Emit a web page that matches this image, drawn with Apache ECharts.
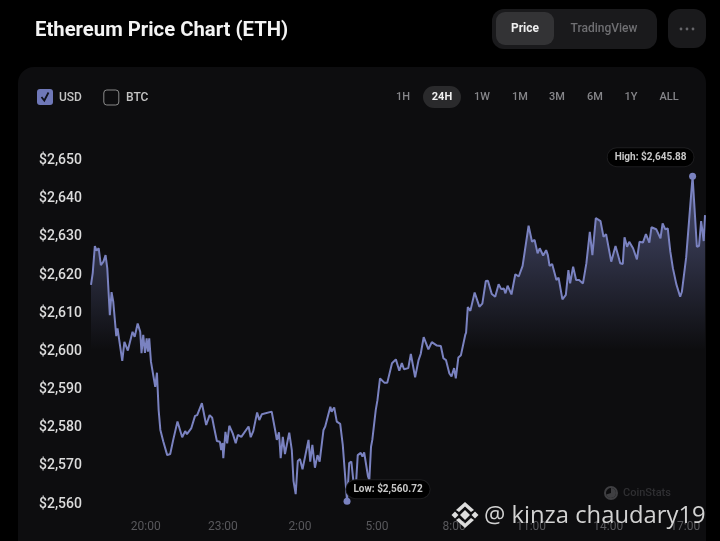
<!DOCTYPE html>
<html><head><meta charset="utf-8">
<style>html,body{margin:0;padding:0;background:#000}#c{width:720px;height:541px}</style>
<script src="https://cdn.jsdelivr.net/npm/echarts@6/dist/echarts.min.js"></script>
</head><body><div id="c"></div>
<script>
// minutes after 17:52
const minutes = [0,4,9,13,18,23,29,34,38,44,48,52,59,62,65,73,78,86,90,97,102,109,115,118,122,126,130,133,136,140,144,150,154,158,162,169,178,185,192,202,206,213,220,224,234,243,248,259,269,277,283,287,294,301,304,307,309,314,318,323,331,338,343,351,368,373,379,383,388,393,399,422,430,434,439,443,448,453,463,469,473,478,483,488,494,508,512,517,523,529,534,543,547,559,562,568,574,582,588,592,598,603,608,615,619,623,630,634,638,647,650,654,657,665,669,675,685,692,703,712,720,726,731,741,747,757,765,770,777,788,796,808,817,823,829,837,842,848,852,858,864,874,876,880,886,896,907,914,922,927,936,944,952,958,964,968,973,982,991,999,1008,1012,1022,1030,1036,1043,1048,1056,1063,1067,1071,1077,1087,1092,1101,1109,1115,1119,1126,1133,1140,1149,1157,1165,1171,1179,1190,1197,1203,1215,1225,1231,1236,1242,1246,1252,1257,1266,1270,1275,1281,1289,1296,1304,1309,1320,1330,1335,1341,1347,1353,1359,1367,1371,1376,1380,1390,1394,1405,1415,1420,1425,1431,1434];
const prices = [2617.4,2620.5,2627.6,2626.4,2627.0,2622.6,2623.5,2625.2,2621.8,2609.5,2615.5,2613.0,2604.0,2606.0,2606.5,2597.5,2602.5,2600.2,2599.7,2605.1,2603.8,2607.3,2605.1,2599.5,2604.3,2599.6,2603.4,2599.9,2603.4,2597.3,2597.1,2590.7,2594.4,2584.6,2579.4,2576.3,2572.8,2573.1,2576.8,2581.6,2581.1,2577.5,2579.1,2578.3,2579.8,2583.1,2583.3,2586.4,2580.7,2583.3,2582.6,2580.3,2576.5,2576.3,2574.1,2576.0,2572.0,2578.9,2575.9,2580.5,2578.5,2575.9,2578.1,2577.6,2580.3,2577.5,2579.1,2578.8,2584.0,2582.0,2583.5,2584.2,2579.4,2576.8,2578.8,2572.0,2577.6,2573.1,2578.7,2574.1,2566.0,2562.6,2571.3,2571.8,2569.1,2576.8,2571.1,2575.5,2569.5,2572.8,2571.1,2579.4,2580.3,2585.5,2584.2,2585.3,2581.6,2581.0,2575.5,2575.7,2560.72,2570.7,2571.1,2563.7,2565.4,2572.8,2573.4,2572.4,2573.5,2567.2,2566.3,2575.0,2576.8,2584.6,2587.2,2592.9,2591.8,2591.8,2596.9,2597.9,2594.9,2596.9,2595.3,2595.6,2599.3,2593.2,2597.7,2599.3,2603.7,2600.5,2602.4,2601.5,2601.4,2598.2,2597.7,2594.2,2593.4,2595.6,2592.9,2598.4,2599.0,2604.3,2604.9,2611.6,2610.6,2615.4,2611.7,2612.5,2618.4,2618.5,2615.0,2614.3,2617.6,2616.3,2616.5,2615.2,2617.2,2614.9,2620.2,2619.6,2622.4,2622.6,2632.9,2628.7,2629.2,2625.7,2627.0,2625.1,2626.5,2625.2,2622.4,2622.9,2618.7,2619.3,2613.6,2614.8,2621.3,2617.8,2622.2,2618.7,2618.7,2617.8,2623.1,2631.3,2625.2,2634.9,2634.1,2630.0,2630.7,2623.5,2627.6,2625.2,2623.1,2622.9,2629.9,2627.4,2628.7,2627.0,2627.4,2624.1,2628.7,2628.5,2630.7,2628.5,2632.5,2632.0,2629.6,2633.5,2632.0,2632.2,2626.1,2621.8,2617.6,2617.4,2614.3,2615.6,2624.6,2624.8,2645.88,2627.4,2627.6,2634.1,2628.9,2635.7];
const tickMinutes = [128,308,488,668,848,1028,1208,1388];
const tickLabels = ['20:00','23:00','2:00','5:00','8:00','11:00','14:00','17:00'];
const rangeLabels = ['1H','24H','1W','1M','3M','6M','1Y','ALL'];
const rangeCenters = [403,442,482,520,557,595,631,669];

const F = 'Roboto, sans-serif';
const money = v => '$' + v.toLocaleString('en-US', {minimumFractionDigits:2, maximumFractionDigits:2});
const txt = (x,y,text,size,fill,weight,align) => ({type:'text',x,y,z:5,style:{text,font:(weight||400)+' '+size+'px '+F,fill,textAlign:align||'left',textVerticalAlign:'middle'}});
const rr = (x,y,w,h,r,fill,z,stroke) => ({type:'rect',z:z||1,shape:{x,y,width:w,height:h,r},style:{fill,stroke:stroke||null}});
const poly = (pts,fill) => ({type:'polygon',z:50,shape:{points:pts},style:{fill}});

const graphics = [
  rr(18,67,688,500,16,'#0d0d0f',-5),
  txt(35,30.5,'Ethereum Price Chart (ETH)',20.3,'#f4f4f4',700),
  rr(492,9,165,40,12,'#1a1a1c',1),
  rr(496,12,58,33,9,'#333335',2),
  txt(525,29,'Price',12,'#eeeeee',700,'center'),
  txt(604,29,'TradingView',12,'#6f6f72',500,'center'),
  rr(668,9,38,39,12,'#1a1a1c',1),
  {type:'circle',z:3,shape:{cx:681,cy:29,r:1.4},style:{fill:'#66666a'}},
  {type:'circle',z:3,shape:{cx:687,cy:29,r:1.4},style:{fill:'#66666a'}},
  {type:'circle',z:3,shape:{cx:693,cy:29,r:1.4},style:{fill:'#66666a'}},
  rr(37,89,16,16,3,'#6f78b8',2),
  {type:'polyline',z:3,shape:{points:[[41.5,97],[44.3,100.5],[48.5,92.5]]},style:{stroke:'#10121c',lineWidth:1.8,fill:null}},
  txt(59,98,'USD',12,'#c4c4c4',500),
  rr(103.8,90,15,15,3,'rgba(0,0,0,0)',2,'#8a8a8a'),
  txt(126,98,'BTC',12,'#c4c4c4',500),
  rr(423,86,38,22,11,'#2a2a2c',1),
  ...rangeLabels.map((t,i) => txt(rangeCenters[i],97.5,t,11,t==='24H'?'#efefef':'#86868a',t==='24H'?700:500,'center')),
  // CoinStats mark
  {type:'circle',z:3,shape:{cx:611,cy:493,r:6},style:{fill:'none',stroke:'#3f3f42',lineWidth:2}},
  {type:'sector',z:3,shape:{cx:611,cy:493,r:5,r0:0,startAngle:-Math.PI/2,endAngle:Math.PI*0.9},style:{fill:'#3f3f42'}},
  txt(623,493,'CoinStats',11,'#2f2f32',500),
  // watermark
  poly([[465,510],[470,515],[465,520],[460,515]],'#dddddd'),
  poly([[455,511.5],[458.5,515],[455,518.5],[451.5,515]],'#dddddd'),
  poly([[475,511.5],[478.5,515],[475,518.5],[471.5,515]],'#dddddd'),
  poly([[465,502],[474,510],[471,512],[465,506.5],[459,512],[456,510]],'#dddddd'),
  poly([[465,528],[474,520],[471,518],[465,523.5],[459,518],[456,520]],'#dddddd'),
  {type:'text',x:484,y:516,z:50,style:{text:'@ kinza chaudary19',font:'400 23.8px "Open Sans", sans-serif',fill:'#d2d2d2',textAlign:'left',textVerticalAlign:'middle'}}
];

const pill = {
  color:'#c8c8c8', fontFamily:F, fontSize:10, fontWeight:700,
  backgroundColor:'#000', borderColor:'#1e1e20', borderWidth:1, borderRadius:10,
  padding:[4,7], position:'inside', align:'center', verticalAlign:'middle'
};
const chart = echarts.init(document.getElementById('c'), null, {renderer:'canvas'});
chart.setOption({
  animation:false,
  backgroundColor:'#000',
  graphic:{elements:graphics},
  grid:{left:91,right:15,top:160.5,bottom:37,containLabel:false},
  xAxis:{
    type:'value', min:0, max:1434,
    splitLine:{show:false}, axisLine:{show:false}, axisTick:{show:false},
    axisLabel:{
      customValues:tickMinutes, margin:17, color:'#58585c', fontFamily:F, fontSize:12,
      formatter:v => tickLabels[tickMinutes.indexOf(v)] || ''
    }
  },
  yAxis:{
    type:'value', min:2560, max:2650, interval:10,
    splitLine:{show:false}, axisLine:{show:false}, axisTick:{show:false},
    axisLabel:{
      margin:52, align:'left', color:'#dcdcdc', fontFamily:F, fontSize:14, fontWeight:500,
      formatter:v => '$' + v.toLocaleString('en-US')
    }
  },
  series:[{
    type:'line', showSymbol:false, smooth:false,
    data:minutes.map((m,i) => [m,prices[i]]),
    lineStyle:{color:'#7a82c0',width:2},
    itemStyle:{color:'#7a82c0'},
    areaStyle:{color:new echarts.graphic.LinearGradient(0,0,0,1,[
      {offset:0,color:'rgba(122,130,192,0.8)'},
      {offset:0.53,color:'rgba(122,130,192,0)'},
      {offset:1,color:'rgba(122,130,192,0)'}
    ])},
    markPoint:{
      symbol:'circle', symbolSize:7, itemStyle:{color:'#7a82c0'},
      data:[
        {type:'max',valueDim:'y',label:{...pill,offset:[-42,-19],formatter:p => 'High: ' + money(p.value)}},
        {type:'min',valueDim:'y',label:{...pill,offset:[41,-12],formatter:p => 'Low: ' + money(p.value)}}
      ]
    }
  }]
});
</script></body></html>
